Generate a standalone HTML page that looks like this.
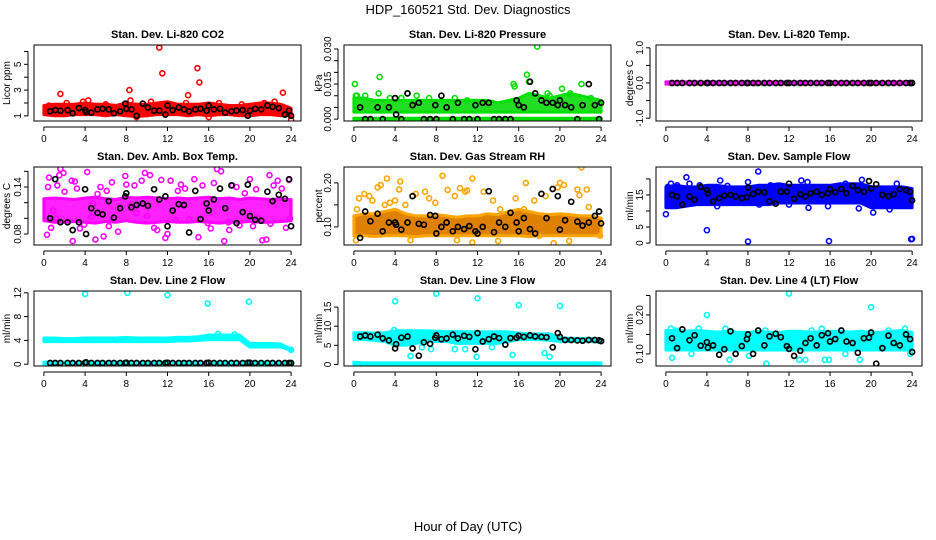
<!DOCTYPE html>
<html><head><meta charset="utf-8">
<style>
html,body{margin:0;padding:0;background:#fff;}
svg{display:block;font-family:"Liberation Sans",sans-serif;}
</style></head>
<body>
<svg id="chart" width="936" height="540" viewBox="0 0 936 540">
<text x="468" y="14" text-anchor="middle" font-size="13">HDP_160521 Std. Dev. Diagnostics</text>
<text x="468" y="531" text-anchor="middle" font-size="13">Hour of Day (UTC)</text>
</svg>
<script>
const xTicks = [0,4,8,12,16,20,24];
const bandHours = [0,1,2,3,4,5,6,7,8,9,10,11,12,13,14,15,16,17,18,19,20,21,22,23,24];
const blackHours = [0.6,1.1,1.6,2.3,2.8,3.4,4.0,4.1,4.6,5.2,5.7,6.3,6.8,7.4,7.9,8.0,8.5,9.0,9.6,10.1,10.7,11.2,11.8,12.0,12.5,13.1,13.6,14.1,14.7,15.2,15.8,16.0,16.5,17.1,17.6,18.2,18.7,19.3,19.8,20.0,20.5,21.1,21.7,22.2,22.8,23.4,23.8,24.0];

// Panel 1: CO2
const co2Lo = [1.1,1.0,1.0,1.1,1.1,1.1,1.0,1.1,1.0,0.95,1.0,1.1,1.1,1.1,1.0,1.1,1.0,1.1,1.1,1.0,1.0,1.1,1.1,1.0,1.0];
const co2Hi = [1.8,1.9,1.9,1.9,2.0,1.9,1.9,1.8,2.0,1.9,1.9,2.0,2.1,1.9,1.9,1.9,2.0,1.9,1.8,1.8,1.9,2.0,2.0,1.9,1.6];
const co2PtX = [1.6,8.3,11.2,11.5,14.9,15.1,14.0,23.2,24.0,4.3,3.8,8.4,0.5,2.2,6.0,10.4,13.8,17.0,19.2,21.4,22.4,9.0,16.0];
const co2PtY = [2.7,3.0,6.3,4.3,4.7,3.6,2.6,2.8,0.7,2.2,2.1,2.2,1.8,2.0,1.9,2.1,2.0,2.0,1.9,2.0,2.1,0.9,0.9];
const co2Black = [1.35,1.45,1.4,1.45,1.2,1.6,1.45,1.3,1.25,1.5,1.55,1.5,1.2,1.35,1.95,1.55,1.5,1.0,1.95,1.65,1.4,1.4,1.1,1.8,1.45,1.65,1.5,1.35,1.5,1.55,1.4,1.8,1.5,1.55,1.25,1.35,1.4,1.45,1.0,1.4,1.55,1.5,1.8,1.7,1.6,1.1,1.4,1.0];

// Panel 2: Pressure
const prLo = [0.003,0.003,0.003,0.003,0.003,0.003,0.003,0.003,0.003,0.003,0.003,0.003,0.003,0.003,0.003,0.003,0.003,0.003,0.003,0.003,0.003,0.003,0.003,0.003,0.003];
const prHi = [0.009,0.009,0.008,0.008,0.008,0.008,0.008,0.008,0.008,0.008,0.008,0.008,0.008,0.008,0.007,0.008,0.009,0.011,0.010,0.009,0.010,0.011,0.010,0.009,0.008];
const prZeroLo = [-0.0003,-0.0003,-0.0003,-0.0003,-0.0003,-0.0003,-0.0003,-0.0003,-0.0003,-0.0003,-0.0003,-0.0003,-0.0003,-0.0003,-0.0003,-0.0003,-0.0003,-0.0003,-0.0003,-0.0003,-0.0003,-0.0003,-0.0003,-0.0003,-0.0003];
const prZeroHi = [0.0004,0.0004,0.0004,0.0004,0.0004,0.0004,0.0004,0.0004,0.0004,0.0004,0.0004,0.0004,0.0004,0.0004,0.0004,0.0004,0.0004,0.0004,0.0004,0.0004,0.0004,0.0004,0.0004,0.0004,0.0004];
const prPtX = [0.1,0.2,2.5,2.4,5.2,6.1,7.3,9.8,15.5,15.6,16.8,17.0,17.8,18.8,20.2,22.1,1.1,0.3,3.5,4.6,11.0,19.0,21.0,23.0];
const prPtY = [0.015,0.010,0.018,0.011,0.011,0.010,0.009,0.009,0.015,0.014,0.019,0.016,0.031,0.011,0.013,0.015,0.010,0.010,0.009,0.009,0.008,0.010,0.011,0.009];
const prBlack = [0.005,0.000,0.000,0.005,0.000,0.005,0.009,0.002,0.000,0.011,0.006,0.007,0.000,0.000,0.006,0.000,0.010,0.005,0.000,0.007,0.000,0.000,0.006,0.000,0.007,0.007,0.000,0.000,0.000,0.000,0.008,0.006,0.005,0.016,0.011,0.008,0.007,0.007,0.006,0.008,0.006,0.005,0.000,0.006,0.015,0.006,0.000,0.007];

// Panel 3: Temp
const tLo = [-0.03,-0.03,-0.03,-0.03,-0.03,-0.03,-0.03,-0.03,-0.03,-0.03,-0.03,-0.03,-0.03,-0.03,-0.03,-0.03,-0.03,-0.03,-0.03,-0.03,-0.03,-0.03,-0.03,-0.03,-0.03];
const tHi = [0.03,0.03,0.03,0.03,0.03,0.03,0.03,0.03,0.03,0.03,0.03,0.03,0.03,0.03,0.03,0.03,0.03,0.03,0.03,0.03,0.03,0.03,0.03,0.03,0.03];
const tBlack = [0,0,0,0,0,0,0,0,0,0,0,0,0,0,0,0,0,0,0,0,0,0,0,0,0,0,0,0,0,0,0,0,0,0,0,0,0,0,0,0,0,0,0,0,0,0,0,0];

// Panel 4: Amb Box Temp
const abLo = [0.097,0.095,0.095,0.096,0.095,0.094,0.096,0.095,0.097,0.095,0.094,0.095,0.096,0.095,0.095,0.096,0.095,0.094,0.095,0.095,0.096,0.095,0.095,0.096,0.097];
const abHi = [0.125,0.126,0.125,0.124,0.126,0.127,0.125,0.124,0.127,0.126,0.127,0.126,0.125,0.126,0.125,0.126,0.127,0.125,0.126,0.124,0.126,0.125,0.124,0.125,0.124];
const abPtX = [0.3,0.4,0.5,0.9,1.3,1.6,1.5,1.9,2.0,2.8,2.7,3.0,3.2,3.5,3.9,4.2,4.6,5.0,5.2,5.5,5.8,6.1,6.6,7.2,7.9,8.0,8.4,8.8,9.5,9.8,10.0,10.3,10.7,11.4,11.8,12.0,12.3,12.8,13.3,13.7,14.1,14.6,15.0,15.4,15.9,16.5,16.8,17.2,17.5,17.9,18.3,18.7,19.0,19.5,20.0,20.3,20.8,21.2,21.6,21.9,22.3,22.7,23.1,23.5,23.8,0.7,1.2,4.8,6.3,9.0,11.0,13.0,16.2,18.0,20.6,22.0,23.9];
const abPtY = [0.079,0.14,0.152,0.11,0.142,0.163,0.155,0.158,0.134,0.071,0.148,0.147,0.138,0.087,0.092,0.159,0.102,0.073,0.131,0.14,0.077,0.135,0.146,0.083,0.154,0.143,0.116,0.142,0.148,0.158,0.103,0.155,0.088,0.149,0.075,0.08,0.148,0.098,0.143,0.138,0.099,0.15,0.076,0.142,0.094,0.145,0.163,0.16,0.071,0.095,0.142,0.14,0.091,0.132,0.15,0.09,0.1,0.072,0.073,0.155,0.142,0.148,0.138,0.088,0.149,0.088,0.1,0.119,0.09,0.107,0.085,0.135,0.087,0.085,0.137,0.093,0.1];
const abBlack = [0.1,0.15,0.095,0.095,0.085,0.095,0.137,0.08,0.113,0.107,0.105,0.122,0.101,0.113,0.128,0.132,0.114,0.117,0.119,0.116,0.137,0.124,0.128,0.09,0.11,0.118,0.117,0.082,0.135,0.099,0.119,0.11,0.124,0.138,0.113,0.142,0.094,0.108,0.143,0.103,0.098,0.097,0.134,0.122,0.13,0.125,0.15,0.09];

// Panel 5: RH
const rhLo = [0.08,0.08,0.078,0.08,0.08,0.08,0.078,0.08,0.08,0.08,0.08,0.08,0.08,0.08,0.08,0.08,0.08,0.078,0.08,0.08,0.08,0.08,0.08,0.08,0.08];
const rhHi = [0.125,0.13,0.13,0.135,0.14,0.13,0.125,0.125,0.128,0.125,0.122,0.125,0.125,0.13,0.128,0.135,0.14,0.135,0.13,0.128,0.13,0.128,0.125,0.125,0.12];
const rhPtX = [0.3,0.5,1.0,1.5,1.8,2.3,2.6,3.2,3.5,4.0,4.4,4.5,5.0,6.0,6.9,7.3,7.9,8.6,9.1,9.8,10.3,10.8,11.0,11.5,11.5,12.6,13.5,14.2,15.7,16.7,17.5,18.0,18.6,19.4,19.8,20.0,20.4,20.9,21.7,21.9,22.1,22.6,22.8,23.9,0.2,5.5,10.0,14.0,16.5,3.0];
const rhPtY = [0.14,0.165,0.175,0.17,0.16,0.19,0.195,0.21,0.155,0.16,0.185,0.203,0.15,0.175,0.18,0.165,0.155,0.216,0.184,0.17,0.188,0.18,0.183,0.21,0.065,0.18,0.16,0.14,0.165,0.2,0.16,0.08,0.17,0.063,0.19,0.2,0.195,0.068,0.185,0.172,0.235,0.185,0.145,0.08,0.07,0.07,0.07,0.068,0.14,0.15];
const rhBlack = [0.075,0.135,0.113,0.13,0.09,0.11,0.11,0.105,0.094,0.11,0.17,0.107,0.105,0.127,0.125,0.085,0.1,0.11,0.09,0.1,0.095,0.102,0.09,0.085,0.1,0.181,0.088,0.11,0.1,0.132,0.11,0.09,0.12,0.095,0.085,0.175,0.12,0.186,0.17,0.094,0.115,0.157,0.112,0.103,0.11,0.125,0.135,0.108];

// Panel 6: Sample flow
const sfLo = [11,11,11.5,12,12,12,12,12,12,12,12,12.5,12.5,12.5,12.5,12.5,12.5,12.5,12.5,12.5,11,11,11,11,11];
const sfHi = [17.5,18,17.5,17.5,18,18,17.5,17.5,17.5,18,18,18.5,18,18,18,18,18,18.5,18.5,18.5,17.5,17.5,17.5,17.5,17];
const sfPtX = [0,2.0,2.3,4.0,5.3,8.0,8.0,9.0,9.1,13.2,13.9,13.8,15.9,15.8,19.1,20.2,21.8,23.9,24.0,0.2,0.5,1.1,3.3,6.0,10.2,17.5,22.5,5.0,12.0,18.8];
const sfPtY = [9,20.5,18.5,4,19.5,0.5,19,22.3,12,19.5,11,19,0.6,11.5,19.7,9.5,10.5,1.2,1.3,17.5,18.5,18,18,17.8,18,18.5,18.5,11.5,12,10.8];
const sfBlack = [15,14.5,12,14.5,13.5,17.5,16.5,15.5,13,14,14.8,15,14.5,14,14.3,17.3,15.3,16,15.8,13,12.3,16,16,18.5,13.8,15.2,14.5,15.5,16,15,15.5,16.8,15.8,16.8,15.5,17.8,16.5,16,19.3,17,18.3,15,14.6,15.2,16.8,16.5,16,13.3];

// Panel 7: Line 2
const l2Lo = [3.8,3.8,3.8,3.8,3.8,3.8,3.8,3.8,3.8,3.8,3.8,3.8,3.8,3.9,3.9,4.0,4.1,4.1,4.1,4.1,2.9,2.9,2.9,2.9,2.3];
const l2Hi = [4.4,4.4,4.3,4.3,4.4,4.4,4.4,4.4,4.5,4.4,4.4,4.4,4.4,4.5,4.5,4.6,4.9,4.9,4.9,4.9,3.5,3.5,3.5,3.4,2.5];
const l2ZLo = [0,0,0,0,0,0,0,0,0,0,0,0,0,0,0,0,0,0,0,0,0,0,0,0,0];
const l2ZHi = [0.35,0.35,0.35,0.35,0.35,0.35,0.35,0.35,0.35,0.35,0.35,0.35,0.35,0.35,0.35,0.35,0.35,0.35,0.35,0.35,0.35,0.35,0.35,0.35,0.35];
const l2PtX = [4.0,8.1,12.0,15.9,19.9,24.0,16.9,18.5];
const l2PtY = [11.8,12.0,11.6,10.2,10.5,2.4,5.1,5.0];
const l2Black = [0.2,0.2,0.2,0.2,0.2,0.2,0.25,0.3,0.2,0.2,0.2,0.2,0.2,0.2,0.2,0.25,0.2,0.2,0.2,0.2,0.2,0.2,0.2,0.25,0.2,0.2,0.2,0.2,0.2,0.2,0.2,0.25,0.2,0.2,0.2,0.2,0.2,0.2,0.25,0.25,0.2,0.2,0.2,0.2,0.2,0.2,0.2,0.2];

// Panel 8: Line 3
const l3Lo = [6.5,6.5,6.3,6.0,5.0,5.0,5.5,6.0,6.0,6.0,5.5,5.5,5.5,5.5,5.5,6.0,6.5,6.5,6.5,6.3,6.0,6.0,6.0,6.0,5.8];
const l3Hi = [8.3,8.3,8.2,8.3,8.8,8.8,8.8,8.8,8.7,8.6,8.6,8.6,8.5,8.5,8.6,8.5,8.2,8.0,8.0,8.0,7.0,6.8,6.8,6.8,6.6];
const l3ZLo = [-0.1,-0.1,-0.1,-0.1,-0.1,-0.1,-0.1,-0.1,-0.1,-0.1,-0.1,-0.1,-0.1,-0.1,-0.1,-0.1,-0.1,-0.1,-0.1,-0.1,-0.1,-0.1,-0.1,-0.1,-0.1];
const l3ZHi = [0.6,0.4,0.4,0.4,0.4,0.4,0.4,0.4,0.4,0.4,0.4,0.4,0.4,0.4,0.4,0.4,0.4,0.4,0.4,0.4,0.4,0.4,0.4,0.4,0.4];
const l3PtX = [4.0,8.0,12.0,16.0,20.0,5.5,11.9,19.0,18.5,15.4,3.9,6.6,9.8,13.4,7.5,10.8];
const l3PtY = [16.5,18.5,17.3,15.5,15.3,2.2,2.0,2.0,3.0,2.5,9.0,4.5,4.0,4.5,4.0,4.0];
const l3Black = [7.3,7.6,7.3,7.8,6.8,6.3,4.2,5.3,7,7.3,4.2,2.3,5.8,5.4,7,7.6,6.6,6.8,7.8,6.8,7.5,7.2,4,8.2,6,6.6,7.3,6.9,5.2,6.9,7,7.5,7.2,7.6,7.3,7.2,7.1,4.5,8.2,7.2,6.4,6.4,6.3,6.2,6.4,6.4,6.3,6.1];

// Panel 9: Line 4
const l4Lo = [0.11,0.11,0.11,0.11,0.11,0.11,0.11,0.11,0.11,0.11,0.11,0.11,0.11,0.11,0.11,0.11,0.11,0.11,0.11,0.11,0.11,0.11,0.11,0.11,0.11];
const l4Hi = [0.16,0.16,0.158,0.16,0.158,0.156,0.158,0.156,0.155,0.158,0.156,0.155,0.158,0.158,0.156,0.157,0.158,0.158,0.156,0.158,0.155,0.156,0.158,0.16,0.155];
const l4PtX = [0.5,1.0,4.0,3.2,5.8,6.2,9.5,9.7,9.8,12.0,14.2,15.2,15.5,15.9,20.0,18.9,21.7,23.3,0.6,2.5,13.0,13.6,17.5,23.8,8.1];
const l4PtY = [0.165,0.16,0.2,0.165,0.165,0.085,0.15,0.16,0.075,0.255,0.16,0.165,0.085,0.085,0.22,0.085,0.16,0.165,0.09,0.1,0.085,0.085,0.1,0.1,0.095];
const l4Black = [0.14,0.115,0.163,0.135,0.148,0.121,0.13,0.116,0.122,0.098,0.112,0.158,0.1,0.12,0.138,0.15,0.1,0.16,0.122,0.145,0.152,0.143,0.12,0.113,0.095,0.108,0.128,0.14,0.122,0.148,0.153,0.132,0.138,0.16,0.132,0.128,0.103,0.14,0.142,0.155,0.075,0.115,0.147,0.128,0.122,0.15,0.138,0.105];

const NS = 'http://www.w3.org/2000/svg';
const svg = document.getElementById('chart');
function mk(tag, attrs, parent){const e=document.createElementNS(NS,tag);for(const k in attrs)e.setAttribute(k,attrs[k]);(parent||svg).appendChild(e);return e;}

const cols = [{x0:34,x1:301,yt:10},{x0:344,x1:611,yt:322},{x0:656,x1:922,yt:633}];
const rows = [{y0:45,y1:121},{y0:167,y1:245},{y0:291,y1:366}];

const panels = [
 {key:'co2',title:'Stan. Dev. Li-820 CO2',ylab:'Licor ppm',r:0,c:0,ymin:0.6,ymax:6.5,yt:[1,2,3,4,5,6],yl:['1','','3','','5',''],col:'#ff0000',fill:'#ff0000',bands:[[co2Lo,co2Hi]],px:co2PtX,py:co2PtY,blk:co2Black},
 {key:'pressure',title:'Stan. Dev. Li-820 Pressure',ylab:'kPa',r:0,c:1,ymin:-0.0008,ymax:0.0317,yt:[0,0.005,0.01,0.015,0.02,0.025,0.03],yl:['0.000','','','0.015','','','0.030'],col:'#00e000',fill:'#22dd22',bands:[[prLo,prHi],[prZeroLo,prZeroHi]],px:prPtX,py:prPtY,blk:prBlack},
 {key:'temp',title:'Stan. Dev. Li-820 Temp.',ylab:'degrees C',r:0,c:2,ymin:-1.08,ymax:1.08,yt:[-1,-0.5,0,0.5,1],yl:['-1.0','','0.0','','1.0'],col:'#ff00ff',fill:'#ff00ff',bands:[[tLo,tHi]],px:[],py:[],blk:tBlack},
 {key:'amb-temp',title:'Stan. Dev. Amb. Box Temp.',ylab:'degrees C',r:1,c:0,ymin:0.066,ymax:0.1655,yt:[0.08,0.10,0.12,0.14,0.16],yl:['0.08','','','0.14',''],col:'#ff00ff',fill:'#ff22ff',bands:[[abLo,abHi]],px:abPtX,py:abPtY,blk:abBlack},
 {key:'rh',title:'Stan. Dev. Gas Stream RH',ylab:'percent',r:1,c:1,ymin:0.059,ymax:0.236,yt:[0.10,0.15,0.20],yl:['0.10','','0.20'],col:'#ffa500',fill:'#e08000',bands:[[rhLo,rhHi]],px:rhPtX,py:rhPtY,blk:rhBlack},
 {key:'sample-flow',title:'Stan. Dev. Sample Flow',ylab:'ml/min',r:1,c:2,ymin:-0.6,ymax:23.7,yt:[0,5,10,15,20],yl:['0','5','','15',''],col:'#0000ff',fill:'#0000ff',bands:[[sfLo,sfHi]],px:sfPtX,py:sfPtY,blk:sfBlack},
 {key:'line2',title:'Stan. Dev. Line 2 Flow',ylab:'ml/min',r:2,c:0,ymin:-0.3,ymax:12.3,yt:[0,4,8,12],yl:['0','4','8','12'],col:'#00ffff',fill:'#00ffff',bands:[[l2Lo,l2Hi],[l2ZLo,l2ZHi]],px:l2PtX,py:l2PtY,blk:l2Black},
 {key:'line3',title:'Stan. Dev. Line 3 Flow',ylab:'ml/min',r:2,c:1,ymin:-0.4,ymax:19.2,yt:[0,5,10,15],yl:['0','5','10','15'],col:'#00ffff',fill:'#00ffff',bands:[[l3Lo,l3Hi],[l3ZLo,l3ZHi]],px:l3PtX,py:l3PtY,blk:l3Black},
 {key:'line4',title:'Stan. Dev. Line 4 (LT) Flow',ylab:'ml/min',r:2,c:2,ymin:0.069,ymax:0.2615,yt:[0.10,0.15,0.20,0.25],yl:['0.10','','0.20',''],col:'#00ffff',fill:'#00ffff',bands:[[l4Lo,l4Hi]],px:l4PtX,py:l4PtY,blk:l4Black}
];

panels.forEach(p=>{
  const C=cols[p.c], R=rows[p.r];
  const g=mk('g',{});
  
  
  const xs=h=>C.x0+(h+0.96)/(25.92)*(C.x1-C.x0);
  const ys=v=>R.y1-(v-p.ymin)/(p.ymax-p.ymin)*(R.y1-R.y0);
  const clipId='clip-'+p.key;
  const cp=mk('clipPath',{id:clipId},g);
  mk('rect',{x:C.x0,y:R.y0,width:C.x1-C.x0,height:R.y1-R.y0},cp);
  const data=mk('g',{'clip-path':'url(#'+clipId+')'},g);
  p.bands.forEach((b,bi)=>{
    const lo=b[0], hi=b[1];
    let d='';
    bandHours.forEach((h,i)=>{d+=(i?'L':'M')+xs(h).toFixed(1)+','+ys(hi[i]).toFixed(1);});
    for(let i=bandHours.length-1;i>=0;i--){d+='L'+xs(bandHours[i]).toFixed(1)+','+ys(lo[i]).toFixed(1);}
    d+='Z';
    const el=mk('path',{d:d,fill:p.fill,stroke:p.col,'stroke-width':3,'stroke-linejoin':'round'},data);
    
    
  });
  p.px.forEach((x,i)=>{
    const el=mk('circle',{cx:xs(x).toFixed(1),cy:ys(p.py[i]).toFixed(1),r:2.5,fill:'none',stroke:p.col,'stroke-width':1.6},data);
    
    
  });
  const n=Math.min(blackHours.length,p.blk.length);
  for(let i=0;i<n;i++){
    const el=mk('circle',{cx:xs(blackHours[i]).toFixed(1),cy:ys(p.blk[i]).toFixed(1),r:2.5,fill:'none',stroke:'#000','stroke-width':1.7},data);
    
    
  }
  const box=mk('rect',{x:C.x0,y:R.y0,width:C.x1-C.x0,height:R.y1-R.y0,fill:'none',stroke:'#000','stroke-width':1},g);
  
  
  const ax=mk('g',{},g);
  
  
  mk('line',{x1:xs(0),x2:xs(24),y1:R.y1+6,y2:R.y1+6,stroke:'#000'},ax);
  xTicks.forEach(t=>{
    mk('line',{x1:xs(t),x2:xs(t),y1:R.y1+6,y2:R.y1+10,stroke:'#000'},ax);
    const tx=mk('text',{x:xs(t),y:R.y1+21,'text-anchor':'middle','font-size':10},ax);
    tx.textContent=t;
  });
  const ay=mk('g',{},g);
  
  
  const yx=C.x0-6;
  mk('line',{x1:yx,x2:yx,y1:ys(p.yt[0]),y2:ys(p.yt[p.yt.length-1]),stroke:'#000'},ay);
  p.yt.forEach((t,i)=>{
    mk('line',{x1:yx-4,x2:yx,y1:ys(t),y2:ys(t),stroke:'#000'},ay);
    if(p.yl[i]){
      const ty=mk('text',{x:0,y:0,'text-anchor':'middle','font-size':10,transform:'translate('+(yx-7)+','+ys(t)+') rotate(-90)'},ay);
      ty.textContent=p.yl[i];
    }
  });
  const yt=mk('text',{'text-anchor':'middle','font-size':10,transform:'translate('+C.yt+','+((R.y0+R.y1)/2)+') rotate(-90)'},g);
  yt.textContent=p.ylab;
  
  
  const ti=mk('text',{x:(C.x0+C.x1)/2,y:R.y0-7,'text-anchor':'middle','font-size':11,'font-weight':'bold'},g);
  ti.textContent=p.title;
  
  
});
</script>
</body></html>
